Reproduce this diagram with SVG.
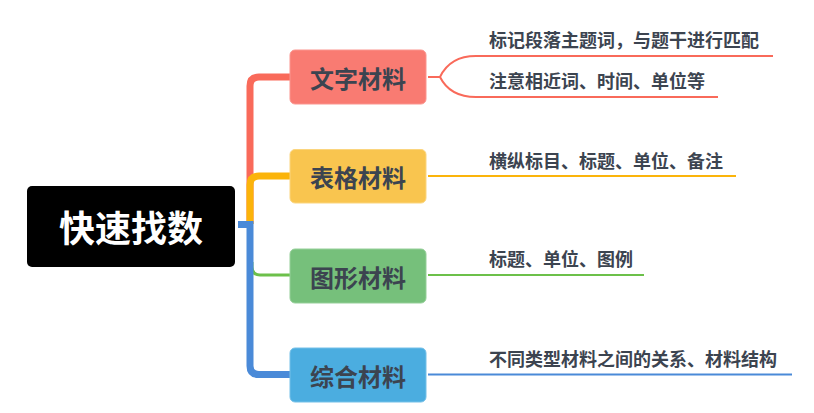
<svg xmlns="http://www.w3.org/2000/svg" width="814" height="413" viewBox="0 0 814 413">
<style>
.node rect{stroke-width:1}
.lbl{font-family:"Noto Sans CJK SC","Noto Sans",sans-serif;font-weight:bold;font-size:24px;fill:#3c4450;text-anchor:middle;dominant-baseline:central}
.sub{font-family:"Noto Sans CJK SC","Noto Sans",sans-serif;font-weight:bold;font-size:18px;fill:#3c4450;dominant-baseline:central}
.root{font-family:"Noto Sans CJK SC","Noto Sans",sans-serif;font-weight:bold;font-size:36px;fill:#ffffff;text-anchor:middle;dominant-baseline:central}
#connectors path{fill:none;stroke-linecap:butt}
</style>
<rect width="814" height="413" fill="#ffffff"/>
<g id="connectors">
  <path d="M250 224 V86 Q250 77 259 77 H290" stroke="#f96a5a" stroke-width="7"/>
  <path d="M257 77 H290" stroke="#f96a5a" stroke-width="3"/>
  <path d="M250 224 V185 Q250 176 259 176 H290" stroke="#fbb40a" stroke-width="7"/>
  <path d="M257 176 H290" stroke="#fbb40a" stroke-width="3"/>
  <path d="M252 262 V267 Q252 275 260 275 H290" stroke="#6cc04a" stroke-width="3"/>
  <path d="M238 224.5 H250 V366 Q250 374.5 259 374.5 H290" stroke="#4a8ad8" stroke-width="7"/>
  <path d="M257 374.5 H290" stroke="#4a8ad8" stroke-width="3"/>
  <path d="M428 77 H440 Q450 56 476 56 H773" stroke="#f96a5a" stroke-width="2"/>
  <path d="M440 77 Q450 97 476 97 H718" stroke="#f96a5a" stroke-width="2"/>
  <path d="M428 176 H736" stroke="#fbb40a" stroke-width="2"/>
  <path d="M428 275 H644" stroke="#6cc04a" stroke-width="2"/>
  <path d="M428 374.5 H792" stroke="#4a8ad8" stroke-width="2"/>
</g>
<g id="root">
  <rect x="27" y="186" width="208" height="81" rx="5" fill="#000000"/>
  <text class="root" x="131" y="226">快速找数</text>
</g>
<g id="n1" class="node">
  <rect x="290" y="50" width="136" height="54" rx="5" fill="#f97b72" stroke="#fb958e"/>
  <text class="lbl" x="358" y="77">文字材料</text>
</g>
<g id="n2" class="node">
  <rect x="290" y="149.5" width="136" height="53.5" rx="5" fill="#f9c54f" stroke="#fbd57e"/>
  <text class="lbl" x="358" y="176">表格材料</text>
</g>
<g id="n3" class="node">
  <rect x="290" y="249" width="136" height="54" rx="5" fill="#76c07b" stroke="#95cf99"/>
  <text class="lbl" x="358" y="276">图形材料</text>
</g>
<g id="n4" class="node">
  <rect x="290" y="348" width="136" height="54" rx="5" fill="#4bade0" stroke="#75c0e8"/>
  <text class="lbl" x="358" y="375">综合材料</text>
</g>
<g id="t1"><text class="sub" x="489" y="38.5">标记段落主题词，与题干进行匹配</text></g>
<g id="t2"><text class="sub" x="489" y="80">注意相近词、时间、单位等</text></g>
<g id="t3"><text class="sub" x="489" y="159.5">横纵标目、标题、单位、备注</text></g>
<g id="t4"><text class="sub" x="489" y="258">标题、单位、图例</text></g>
<g id="t5"><text class="sub" x="489" y="358">不同类型材料之间的关系、材料结构</text></g>
</svg>
